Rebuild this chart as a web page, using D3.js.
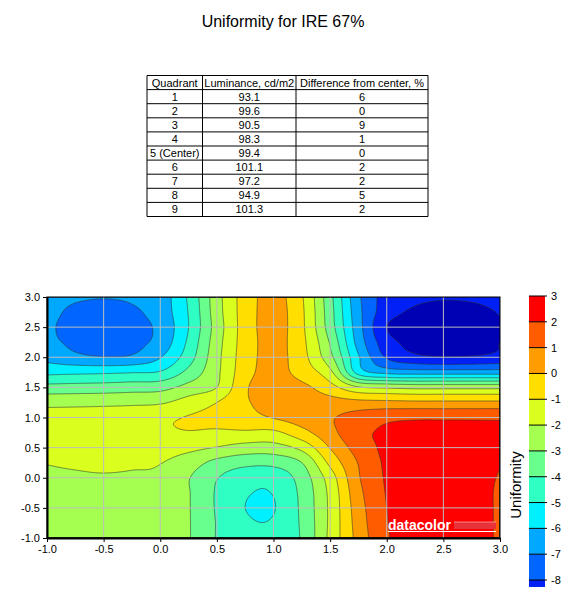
<!DOCTYPE html>
<html>
<head>
<meta charset="utf-8">
<script src="https://cdn.jsdelivr.net/npm/d3@7"></script>
<style>
  body { margin: 0; background: #fff; }
  svg { display: block; font-family: "Liberation Sans", Arial, sans-serif; }
</style>
</head>
<body>
<svg id="chart" width="570" height="601"></svg>
<script>
// ---- table data ----
const tableHeader = ["Quadrant", "Luminance, cd/m2", "Difference from center, %"];
const quadrants = ["1", "2", "3", "4", "5 (Center)", "6", "7", "8", "9"];
const luminance = ["93.1", "99.6", "90.5", "98.3", "99.4", "101.1", "97.2", "94.9", "101.3"];
const diffFromCenter = [6, 0, 9, 1, 0, 2, 2, 5, 2];

// ---- uniformity surface (rows top -> bottom) ----
const gridX = [-1, -0.75, -0.5, -0.25, 0, 0.25, 0.5, 0.75, 1, 1.25, 1.5, 1.75, 2, 2.25, 2.5, 2.75, 3];
const gridY = [3, 2.75, 2.5, 2.25, 2, 1.75, 1.5, 1.25, 1, 0.75, 0.5, 0.25, 0, -0.25, -0.5, -0.75, -1];
const uniformity = [
  [-6.6, -6.85, -6.95, -6.85, -6.5, -4.85, -2.4, -0.55, 0.3, -0.9, -3.7, -6.8, -8.4, -8.75, -8.9, -8.85, -8.7],     // y=3.00
  [-6.7, -7.2, -7.35, -7.15, -6.55, -4.95, -2.45, -0.55, 0.35, -0.83, -3.6, -6.7, -8.55, -9.15, -9.35, -9.25, -8.95], // y=2.75
  [-6.85, -7.3, -7.5, -7.3, -6.75, -5.0, -2.55, -0.55, 0.35, -0.8, -3.5, -6.6, -9.0, -9.35, -9.5, -9.4, -9.05],    // y=2.50
  [-6.75, -7.2, -7.4, -7.25, -6.65, -4.8, -2.42, -0.55, 0.3, -0.73, -3.1, -6.4, -8.6, -9.25, -9.4, -9.3, -9.0],    // y=2.25
  [-6.3, -6.75, -6.95, -6.85, -6.05, -4.45, -2.3, -0.5, 0.3, -0.64, -2.7, -5.9, -8.1, -8.75, -8.95, -8.9, -8.7],   // y=2.00
  [-5.25, -5.2, -5.15, -5.05, -4.9, -3.7, -2.2, -0.4, 0.35, -0.43, -1.73, -5.4, -6.3, -6.45, -6.45, -6.45, -6.45], // y=1.75
  [-3.65, -3.6, -3.55, -3.45, -3.35, -2.65, -2.0, -0.15, 0.55, 0.25, -0.6, -1.9, -2.15, -2.3, -2.3, -2.3, -2.3],   // y=1.50
  [-2.3, -2.28, -2.25, -2.2, -2.12, -1.58, -1.0, -0.12, 0.35, 0.45, 0.4, 0.3, 0.25, 0.2, 0.2, 0.2, 0.2],          // y=1.25
  [-1.6, -1.55, -1.5, -1.42, -1.2, -0.95, -0.75, -0.35, 0.05, 0.45, 0.9, 1.4, 1.75, 1.85, 1.85, 1.85, 1.85],      // y=1.00
  [-1.35, -1.3, -1.3, -1.25, -1.15, -1.05, -1.15, -1.15, -1.2, -0.35, 0.7, 1.72, 2.15, 2.3, 2.35, 2.3, 2.2],      // y=0.75
  [-1.6, -1.65, -1.7, -1.65, -1.6, -1.75, -2.05, -2.4, -2.4, -1.7, 0.05, 1.43, 2.2, 2.4, 2.45, 2.4, 2.25],        // y=0.50
  [-1.97, -1.9, -1.83, -1.88, -1.97, -2.5, -3.3, -3.7, -3.7, -3.0, -0.75, 1.05, 2.15, 2.4, 2.45, 2.35, 2.05],     // y=0.25
  [-2.1, -2.1, -2.08, -2.12, -2.2, -2.95, -3.95, -4.6, -4.65, -3.56, -1.5, 0.9, 2.1, 2.4, 2.45, 2.3, 1.95],       // y=0.00
  [-2.3, -2.3, -2.3, -2.35, -2.45, -2.95, -4.1, -4.9, -4.95, -3.75, -1.75, 0.7, 2.05, 2.35, 2.45, 2.3, 1.9],      // y=-0.25
  [-2.45, -2.45, -2.45, -2.5, -2.6, -2.95, -4.1, -5.0, -5.05, -3.8, -1.8, 0.55, 2.0, 2.35, 2.45, 2.3, 1.9],       // y=-0.50
  [-2.55, -2.55, -2.55, -2.6, -2.7, -2.95, -4.05, -4.85, -4.9, -3.85, -1.8, 0.45, 1.95, 2.3, 2.45, 2.3, 1.9],     // y=-0.75
  [-2.6, -2.6, -2.6, -2.65, -2.75, -2.95, -4.05, -4.65, -4.7, -3.9, -1.75, 0.35, 1.9, 2.3, 2.45, 2.3, 1.9]        // y=-1.00
];

// contour levels and the colour of the band above each level
const levels = [-9, -8, -7, -6, -5, -4, -3, -2, -1, 0, 1, 2];
const bandColors = ["#0020f5", "#0066ff", "#00a8ff", "#00f0ff", "#30ffc4", "#68ff8c",
                    "#a4ff50", "#daff1e", "#ffde00", "#ff9c00", "#ff5c00", "#ff0000"];
const belowColor = "#0000b4";

const axisTicks = [-1, -0.5, 0, 0.5, 1, 1.5, 2, 2.5, 3];
const colorbarTicks = [3, 2, 1, 0, -1, -2, -3, -4, -5, -6, -7, -8];

const svg = d3.select("#chart");

// title
svg.append("text")
  .attr("x", 283).attr("y", 27)
  .attr("text-anchor", "middle")
  .style("font-size", "16px")
  .text("Uniformity for IRE 67%");

// ---- table ----
const colEdges = [147, 202.5, 296, 428],
    tableTop = 75.5,
    rowH = 14.1;
const tableRows = [tableHeader].concat(quadrants.map((q, i) => [q, luminance[i], diffFromCenter[i]]));
const table = svg.append("g");

table.selectAll(".hline")
  .data(d3.range(tableRows.length + 1))
  .enter().append("line")
  .attr("x1", colEdges[0]).attr("x2", colEdges[3])
  .attr("y1", d => tableTop + d * rowH).attr("y2", d => tableTop + d * rowH)
  .attr("stroke", "#000").attr("stroke-width", 1);

table.selectAll(".vline")
  .data(colEdges)
  .enter().append("line")
  .attr("x1", d => d).attr("x2", d => d)
  .attr("y1", tableTop).attr("y2", tableTop + tableRows.length * rowH)
  .attr("stroke", "#000").attr("stroke-width", 1);

tableRows.forEach((row, r) => {
  row.forEach((cell, c) => {
    table.append("text")
      .attr("x", (colEdges[c] + colEdges[c + 1]) / 2)
      .attr("y", tableTop + r * rowH + rowH / 2 + 4)
      .attr("text-anchor", "middle")
      .style("font-size", "11px")
      .text(cell);
  });
});

// ---- contour plot ----
const plot = {left: 47, right: 500, top: 297, bottom: 538};
const W = plot.right - plot.left, H = plot.bottom - plot.top;

const x = d3.scaleLinear().domain([-1, 3]).range([plot.left, plot.right]);
const y = d3.scaleLinear().domain([-1, 3]).range([plot.bottom, plot.top]);

// catmull-rom smoothing of the read grid, for rendering only
function cr(p0, p1, p2, p3, t) {
  return 0.5 * (2 * p1 + (p2 - p0) * t + (2 * p0 - 5 * p1 + 4 * p2 - p3) * t * t
    + (3 * p1 - p0 - 3 * p2 + p3) * t * t * t);
}
function zAt(j, i) {
  const nj = gridY.length, ni = gridX.length;
  if (j < 0) return 2 * zAt(0, i) - zAt(1, i);
  if (j >= nj) return 2 * zAt(nj - 1, i) - zAt(nj - 2, i);
  if (i < 0) return 2 * uniformity[j][0] - uniformity[j][1];
  if (i >= ni) return 2 * uniformity[j][ni - 1] - uniformity[j][ni - 2];
  return uniformity[j][i];
}
function surface(xv, yv) {
  const fx = (xv - gridX[0]) / (gridX[1] - gridX[0]),
      fy = (gridY[0] - yv) / (gridY[0] - gridY[1]);
  const i = Math.max(0, Math.min(gridX.length - 2, Math.floor(fx))),
      j = Math.max(0, Math.min(gridY.length - 2, Math.floor(fy)));
  const tx = fx - i, ty = fy - j;
  const col = [-1, 0, 1, 2].map(dj =>
    cr(zAt(j + dj, i - 1), zAt(j + dj, i), zAt(j + dj, i + 1), zAt(j + dj, i + 2), tx));
  return cr(col[0], col[1], col[2], col[3], ty);
}

const nx = W, ny = H;
const values = new Float64Array(nx * ny);
for (let j = 0; j < ny; j++) {
  for (let i = 0; i < nx; i++) {
    values[i + j * nx] = surface(
      x.invert(plot.left + (i + 0.5) * W / nx),
      y.invert(plot.top + (j + 0.5) * H / ny));
  }
}

const contours = d3.contours().size([nx, ny]).thresholds(levels)(values);
const toPixels = d3.geoTransform({
  point: function(u, v) { this.stream.point(plot.left + u * W / nx, plot.top + v * H / ny); }
});
const path = d3.geoPath(toPixels);

svg.append("clipPath").attr("id", "plotClip")
  .append("rect")
  .attr("x", plot.left).attr("y", plot.top).attr("width", W).attr("height", H);

const field = svg.append("g").attr("clip-path", "url(#plotClip)");

field.append("rect")
  .attr("x", plot.left).attr("y", plot.top).attr("width", W).attr("height", H)
  .attr("fill", belowColor);

field.selectAll(".band")
  .data(contours)
  .enter().append("path")
  .attr("d", path)
  .attr("fill", (d, i) => bandColors[i]);

field.selectAll(".iso")
  .data(contours)
  .enter().append("path")
  .attr("d", path)
  .attr("fill", "none")
  .attr("stroke", "#333")
  .attr("stroke-opacity", 0.75)
  .attr("stroke-width", 0.8);

// grid
const inner = axisTicks.filter(d => d > -1 && d < 3);
field.selectAll(".gx")
  .data(inner)
  .enter().append("line")
  .attr("x1", d => x(d)).attr("x2", d => x(d))
  .attr("y1", plot.top).attr("y2", plot.bottom)
  .attr("stroke", "#bdbdbd").attr("stroke-width", 1);
field.selectAll(".gy")
  .data(inner)
  .enter().append("line")
  .attr("x1", plot.left).attr("x2", plot.right)
  .attr("y1", d => y(d)).attr("y2", d => y(d))
  .attr("stroke", "#bdbdbd").attr("stroke-width", 1);

// datacolor mark
const logo = svg.append("g");
logo.append("text")
  .attr("x", 388).attr("y", 529.5)
  .attr("fill", "#fff")
  .style("font-size", "14px").style("font-weight", "bold")
  .text("datacolor");
logo.append("rect")
  .attr("x", 454).attr("y", 522).attr("width", 42).attr("height", 7)
  .attr("fill", "#e8323a");
logo.append("line")
  .attr("x1", 454).attr("x2", 496).attr("y1", 522).attr("y2", 522)
  .attr("stroke", "#fff").attr("stroke-opacity", 0.8).attr("stroke-width", 0.6);
logo.append("line")
  .attr("x1", 388).attr("x2", 496).attr("y1", 531.5).attr("y2", 531.5)
  .attr("stroke", "#fff").attr("stroke-width", 1);

// border + axes
svg.append("rect")
  .attr("x", plot.left).attr("y", plot.top).attr("width", W).attr("height", H)
  .attr("fill", "none").attr("stroke", "#000").attr("stroke-width", 1);

const fmt = d => d.toFixed(1);
const xAxis = svg.append("g")
  .attr("transform", `translate(0,${plot.bottom})`)
  .call(d3.axisBottom(x).tickValues(axisTicks).tickFormat(fmt).tickSize(4).tickSizeOuter(0));
const yAxis = svg.append("g")
  .attr("transform", `translate(${plot.left},0)`)
  .call(d3.axisLeft(y).tickValues(axisTicks).tickFormat(fmt).tickSize(4).tickSizeOuter(0));

[xAxis, yAxis].forEach(g => {
  g.attr("font-family", null).attr("font-size", null);
  g.select(".domain").attr("stroke-width", 2);
  g.selectAll("text").style("font-size", "11px").attr("fill", "#000");
});

// ---- colour bar ----
const cb = {x: 529, w: 16, min: -8.27};
const cbY = d3.scaleLinear().domain([3, -8]).range([296, 580]);
const colorbar = svg.append("g");

colorbar.selectAll(".cbband")
  .data(levels)
  .enter().append("rect")
  .attr("x", cb.x).attr("width", cb.w)
  .attr("y", d => cbY(d + 1))
  .attr("height", d => cbY(Math.max(d, cb.min)) - cbY(d + 1))
  .attr("fill", (d, i) => bandColors[i]);

colorbar.selectAll(".cbtick")
  .data(colorbarTicks)
  .enter().append("line")
  .attr("x1", cb.x).attr("x2", cb.x + cb.w + 2)
  .attr("y1", d => cbY(d)).attr("y2", d => cbY(d))
  .attr("stroke", "#000").attr("stroke-width", 1);

colorbar.selectAll(".cblabel")
  .data(colorbarTicks)
  .enter().append("text")
  .attr("x", cb.x + cb.w + 6)
  .attr("y", d => cbY(d) + 4)
  .style("font-size", "11px")
  .text(d => d);

colorbar.append("text")
  .attr("transform", "translate(521,485) rotate(-90)")
  .attr("text-anchor", "middle")
  .style("font-size", "15px")
  .text("Uniformity");
</script>
</body>
</html>
